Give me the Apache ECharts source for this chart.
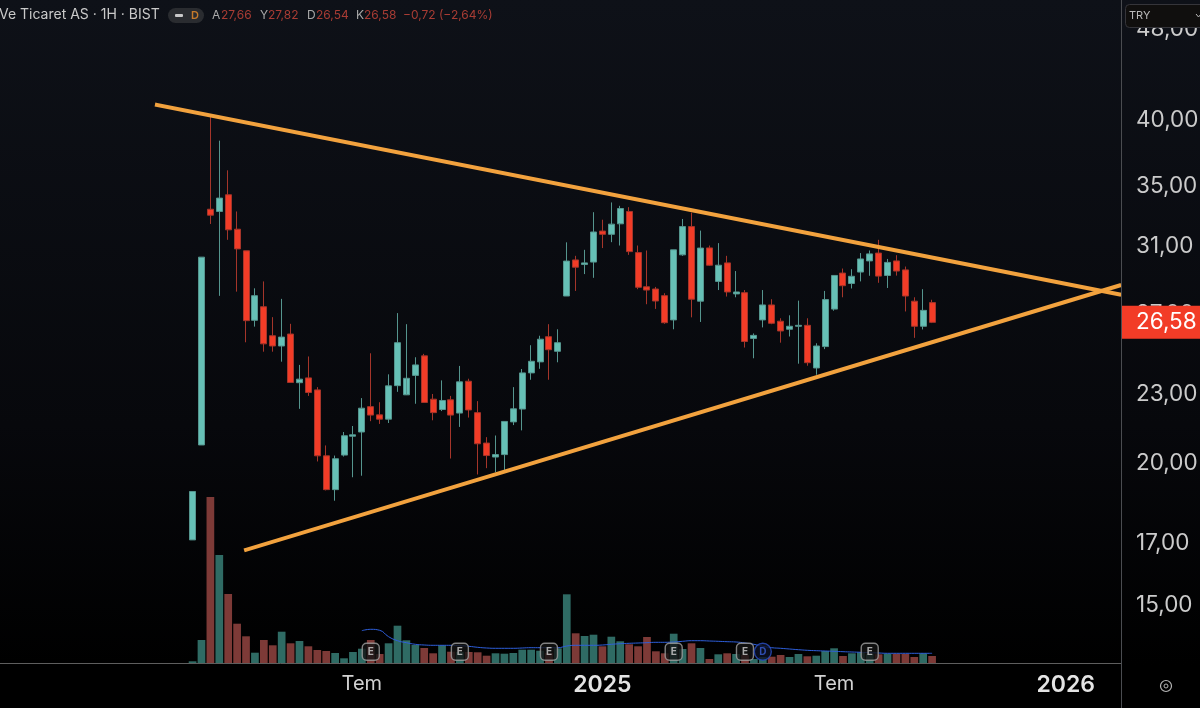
<!DOCTYPE html>
<html>
<head>
<meta charset="utf-8">
<title>Ve Ticaret AS 1H BIST</title>
<script src="https://cdn.jsdelivr.net/npm/echarts@6/dist/echarts.min.js"></script>
<style>
html, body { margin: 0; padding: 0; background: #000; overflow: hidden; }
#chart { width: 1200px; height: 708px; }
</style>
</head>
<body>
<div id="chart"></div>
<script>
const opens = [17.13,20.75,33.40,33.25,34.39,32.08,30.71,26.69,27.43,25.87,
  25.34,25.96,23.53,23.76,23.19,20.30,18.96,20.33,21.12,21.30,
  22.42,22.05,21.86,23.39,22.96,23.88,24.84,22.76,22.29,22.73,
  22.13,23.60,22.15,20.83,20.25,20.35,21.74,22.31,24.00,24.54,
  25.82,25.07,28.03,30.15,29.87,30.02,31.96,31.75,32.43,33.25,
  30.60,28.56,28.43,28.05,26.71,30.46,32.25,27.74,30.89,28.87,
  29.97,28.15,28.22,25.73,26.71,27.53,26.64,26.21,26.37,26.42,
  24.24,25.31,27.30,29.36,28.75,29.42,30.09,30.57,29.22,30.09,
  29.55,27.74,26.37,27.66]
const closes = [18.89,30.32,33.00,34.16,32.04,30.83,26.67,28.05,25.45,25.34,
  25.80,23.54,23.70,23.07,20.30,18.96,20.18,21.14,21.18,22.35,
  22.04,21.86,23.38,25.51,23.74,24.39,22.61,22.15,22.70,22.04,
  23.57,22.27,20.80,20.31,20.35,21.76,22.32,24.00,24.57,25.69,
  25.15,25.51,30.08,29.71,29.97,31.90,31.75,32.41,33.45,30.66,
  28.53,28.37,27.75,26.56,30.77,32.25,27.85,30.88,29.83,29.83,
  28.26,28.26,25.57,25.89,27.53,26.53,26.12,26.37,26.42,24.50,
  25.34,27.83,29.22,28.62,29.17,30.21,30.52,29.18,30.00,29.48,
  28.03,26.37,27.23,26.58]
const lows = [17.13,20.75,32.42,28.04,31.40,28.28,25.53,26.35,25.05,25.05,
  24.55,23.54,22.32,22.91,20.07,18.93,18.54,20.27,19.44,19.50,
  21.77,21.65,21.69,23.10,23.74,22.55,22.61,21.81,22.22,20.19,
  21.52,21.93,19.55,19.80,19.64,19.73,21.60,21.37,23.67,24.20,
  23.67,24.52,28.03,28.32,29.30,29.08,30.88,31.25,31.04,30.46,
  28.42,27.57,27.31,26.50,26.21,30.40,26.85,26.60,29.79,28.37,
  28.00,27.96,25.26,24.72,26.31,26.48,25.51,25.83,24.45,24.35,
  23.91,25.18,27.21,27.96,28.46,28.87,29.20,28.79,28.49,29.21,
  27.17,25.76,26.20,26.54]
const highs = [18.89,30.32,40.40,38.36,36.13,33.25,30.71,28.47,28.87,26.86,
  27.87,26.50,24.39,24.81,23.32,20.73,20.31,21.30,21.56,22.81,
  24.97,22.62,23.93,27.08,26.48,24.77,24.94,23.00,23.64,22.91,
  24.34,23.72,22.67,21.08,21.15,21.77,23.32,24.19,25.38,25.87,
  26.48,26.21,31.24,30.40,30.77,33.20,32.70,33.86,33.63,33.54,
  31.04,30.73,28.55,28.19,30.77,32.75,33.17,31.99,31.04,31.19,
  30.40,29.48,28.37,25.99,28.37,27.85,26.80,26.96,27.77,26.80,
  25.48,28.32,29.22,29.63,29.59,30.57,30.73,31.40,30.21,30.44,
  29.75,27.96,28.42,27.82]
const volumes = [1.7,23,166,108,69,39.3,26.7,10.3,23,17.7,
  31.3,19.7,22,16.7,13,12,10,4.7,11,14.3,
  23,9,19.7,37.3,22.7,18,15,9.7,17.7,11.3,
  11,11,10.7,7.3,9.7,9.3,10,13.3,13.3,12.3,
  10,14.7,68.7,29.7,27,28.3,16.7,26.3,21.7,18.7,
  16.7,26,11.7,9.7,29.3,14,19.7,15,4,8.7,
  9.7,9,8,4,6,6.3,8,6,9,6.7,
  7.3,12,14.7,7,9.7,10.7,9,8.7,9.3,9.3,
  9,6,9.7,7]
// volume average starts at candle 19
const volumeMaStart = 19
const volumeMa = [32.3,33.7,32.7,26.3,22.3,20.3,18.7,18,17.7,17.7,17.7,
  17.3,16.7,15.7,15,14.7,14.7,14.7,15,15.3,15.3,15.3,15.3,17,17.7,
  17.7,17.7,18,18.7,19.3,19.7,20,20.3,20.7,20.7,21,21.7,22.3,22.3,
  22,21.7,21.3,21,20,18.7,16.7,15.3,14.7,14,13.3,12.7,12.3,12,11.7,
  11.3,11,10.7,10.3,10,9.7,9.7,9.7,9.7,9.7,9.7]

const monthLabels = { 40: 'Tem', 67: '2025', 93: 'Tem', 119: '2026' }
const priceTicks = [48, 40, 35, 31, 27, 23, 20, 17, 15]
const lastPrice = 26.58
const priceMin = 13.36
const priceMax = 50.96

// two trendlines, category slot and price at each end
const upperTrendSlots = [17, 125]
const upperTrendPrices = [41.23, 28.12]
const lowerTrendSlots = [27, 125]
const lowerTrendPrices = [16.79, 28.63]

const eventCandles = [20, 30, 40, 54, 62, 64, 76]
const eventLabels = ['E', 'E', 'E', 'E', 'E', 'D', 'E']
const eventLevel = 11.3

const SLOTS = 126
const PAD = 21 // empty slots before the first candle

const UP = '#66c0b6'
const DOWN = '#f23c27'
const UP_WICK = '#55958e'
const DOWN_WICK = '#a5352a'
const UP_VOL = '#2f6b64'
const DOWN_VOL = '#7d3a37'

const categories = new Array(SLOTS).fill('').map((_, i) => monthLabels[i] || '')
const candleRows = opens.map((o, i) => [i + PAD, Math.log(o), Math.log(closes[i]), Math.log(lows[i]), Math.log(highs[i])])
const volumeRows = volumes.map((v, i) => ({
  value: [i + PAD, v],
  itemStyle: { color: closes[i] >= opens[i] ? UP_VOL : DOWN_VOL }
}))
const maRows = volumeMa.map((v, i) => [i + volumeMaStart + PAD, v])
const eventRows = eventCandles.map((c, i) => {
  const isDiv = eventLabels[i] === 'D'
  return {
    value: [c + PAD, eventLevel],
    symbol: isDiv ? 'circle' : 'roundRect',
    itemStyle: { color: isDiv ? '#0c1226' : '#141414', borderColor: isDiv ? '#2a4fc4' : '#a0a0a0', borderWidth: 1.4 },
    label: { show: true, formatter: eventLabels[i], color: isDiv ? '#3a5fd6' : '#cfcfcf', fontSize: 10, fontWeight: 'bold', fontFamily: 'Inter' }
  }
})

const chart = echarts.init(document.getElementById('chart'))

const headerValues = [
  { t: 'A', x: 212, c: '#a9a9a9' }, { t: '27,66', x: 221, c: '#a83c34' },
  { t: 'Y', x: 260, c: '#a9a9a9' }, { t: '27,82', x: 268, c: '#a83c34' },
  { t: 'D', x: 307, c: '#a9a9a9' }, { t: '26,54', x: 316, c: '#a83c34' },
  { t: 'K', x: 356, c: '#a9a9a9' }, { t: '26,58', x: 364, c: '#a83c34' },
  { t: '−0,72 (−2,64%)', x: 403, c: '#a83c34' }
]

const option = {
  animation: false,
  backgroundColor: {
    type: 'linear', x: 0, y: 0, x2: 0, y2: 1,
    colorStops: [{ offset: 0, color: '#0e1118' }, { offset: 0.6, color: '#07080c' }, { offset: 0.94, color: '#000000' }, { offset: 1, color: '#000000' }]
  },
  grid: [
    { left: 1, top: 0, width: 1122.66, height: 663, outerBoundsMode: 'none' },
    { left: 1, top: 493, width: 1122.66, height: 170, outerBoundsMode: 'none' }
  ],
  xAxis: [
    { type: 'category', gridIndex: 0, data: categories, show: false },
    {
      type: 'category', gridIndex: 1, data: categories,
      axisLine: { show: false },
      axisTick: { show: false },
      axisLabel: {
        interval: 0,
        margin: 11,
        hideOverlap: false,
        formatter: (v) => v === '' ? '' : (v === 'Tem' ? `{m|${v}}` : `{y|${v}}`),
        rich: {
          m: { fontFamily: 'Inter', fontSize: 20, color: '#d2d2d2' },
          y: { fontFamily: 'Inter', fontSize: 23, fontWeight: 600, color: '#e4e4e4' }
        }
      }
    }
  ],
  yAxis: [
    {
      type: 'value', gridIndex: 0, position: 'right', offset: -2.66,
      min: Math.log(priceMin), max: Math.log(priceMax),
      splitLine: { show: false },
      axisLine: { show: false },
      axisTick: { show: false },
      axisLabel: {
        margin: 0,
        customValues: priceTicks.concat(lastPrice).map(Math.log),
        formatter: (v) => {
          const p = Math.exp(v)
          const s = p.toFixed(2).replace('.', ',')
          return Math.abs(p - lastPrice) < 0.001 ? `{last|${s}}` : `{tick|${s}}`
        },
        rich: {
          tick: { fontFamily: 'Inter', fontSize: 22.5, color: '#cbcbcb', padding: [0, 0, 0, 15] },
          last: { fontFamily: 'Inter', fontSize: 22.5, color: '#ffffff', backgroundColor: '#f23c27', padding: [5, 8, 5, 15] }
        }
      }
    },
    { type: 'value', gridIndex: 1, min: 0, max: 170, show: false }
  ],
  series: [
    {
      type: 'bar', xAxisIndex: 1, yAxisIndex: 1, barWidth: 7.7, data: volumeRows, z: 1
    },
    {
      type: 'line', xAxisIndex: 1, yAxisIndex: 1, data: maRows, showSymbol: false, smooth: true, z: 2,
      lineStyle: { color: '#2e5fdc', width: 1 }
    },
    {
      type: 'scatter', xAxisIndex: 1, yAxisIndex: 1, symbolSize: 17, data: eventRows, z: 3
    },
    {
      type: 'candlestick', xAxisIndex: 0, yAxisIndex: 0, barWidth: 6.5, z: 4,
      encode: { x: 0, y: [1, 2, 3, 4] },
      data: candleRows,
      itemStyle: { color: UP, color0: DOWN, borderColor: UP_WICK, borderColor0: DOWN_WICK, borderColorDoji: UP_WICK, borderWidth: 1 }
    },
    {
      type: 'line', xAxisIndex: 0, yAxisIndex: 0, showSymbol: false, z: 5,
      data: upperTrendSlots.map((s, i) => [s, Math.log(upperTrendPrices[i])]),
      lineStyle: { color: '#f2a23e', width: 4, cap: 'square' }
    },
    {
      type: 'line', xAxisIndex: 0, yAxisIndex: 0, showSymbol: false, z: 5,
      data: lowerTrendSlots.map((s, i) => [s, Math.log(lowerTrendPrices[i])]),
      lineStyle: { color: '#f2a23e', width: 4, cap: 'square' }
    }
  ],
  graphic: [
    // axis frame
    { type: 'line', z: 50, shape: { x1: 1121.5, y1: 0, x2: 1121.5, y2: 708 }, style: { stroke: '#4a4c50', lineWidth: 1 } },
    { type: 'line', z: 50, shape: { x1: 0, y1: 663.5, x2: 1121, y2: 663.5 }, style: { stroke: '#5e5e5e', lineWidth: 1 } },
    // currency box
    { type: 'rect', z: 60, shape: { x: 1125.5, y: 4.5, width: 80, height: 23, r: 4 }, style: { fill: '#100f0e', stroke: '#35353a', lineWidth: 1 } },
    { type: 'text', z: 61, x: 1129, y: 16, style: { text: 'TRY', fill: '#b9b9b9', font: '11px Inter', verticalAlign: 'middle' } },
    { type: 'polyline', z: 61, shape: { points: [[1196, 14], [1198.5, 17], [1201, 14]] }, style: { stroke: '#b9b9b9', fill: 'none', lineWidth: 1 } },
    // settings icon
    { type: 'circle', z: 60, shape: { cx: 1166, cy: 686, r: 5.5 }, style: { fill: 'none', stroke: '#b5b5b5', lineWidth: 1.2 } },
    { type: 'circle', z: 60, shape: { cx: 1166, cy: 686, r: 2 }, style: { fill: 'none', stroke: '#b5b5b5', lineWidth: 1 } },
    // header
    { type: 'text', z: 60, x: -1, y: 15, style: { text: 'Ve Ticaret AS · 1H · BIST', fill: '#c9c9c9', font: '14px Inter', verticalAlign: 'middle' } },
    { type: 'rect', z: 60, shape: { x: 168, y: 8, width: 36, height: 15, r: 7.5 }, style: { fill: '#2a2c30' } },
    { type: 'rect', z: 61, shape: { x: 175, y: 14, width: 8, height: 3, r: 1 }, style: { fill: '#c9c9c9' } },
    { type: 'text', z: 61, x: 191, y: 15.5, style: { text: 'D', fill: '#c67a2b', font: '600 11px Inter', verticalAlign: 'middle' } }
  ].concat(headerValues.map(h => ({
    type: 'text', z: 60, x: h.x, y: 15.5, style: { text: h.t, fill: h.c, font: '12px Inter', verticalAlign: 'middle' }
  })))
}

chart.setOption(option)
</script>
</body>
</html>
